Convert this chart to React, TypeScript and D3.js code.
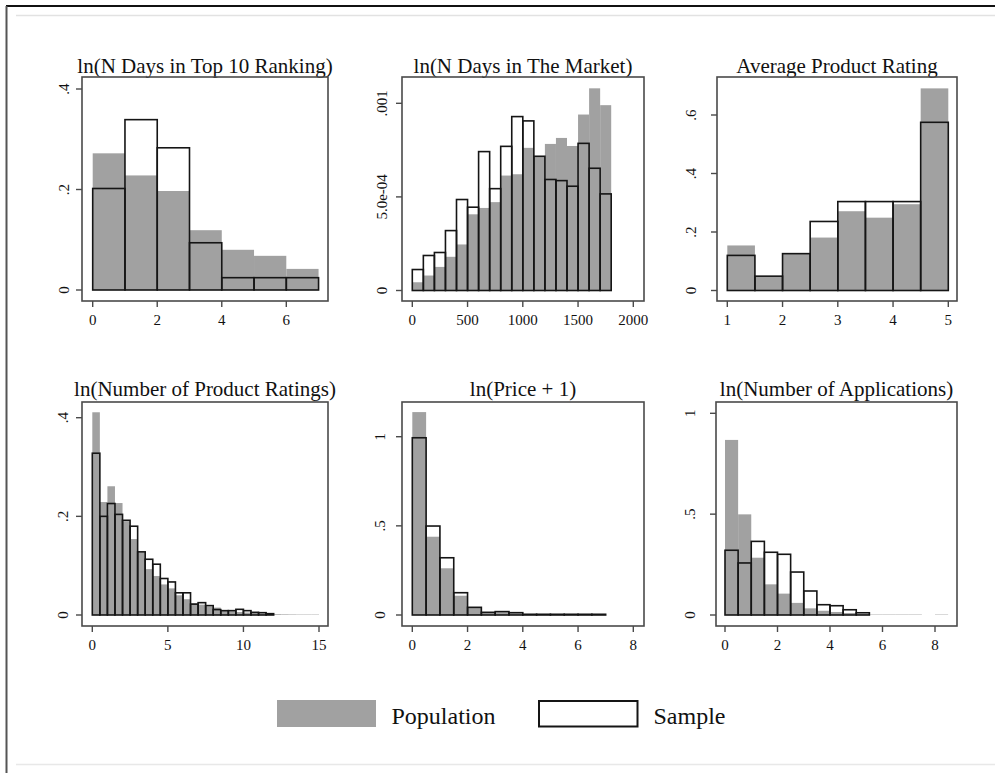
import React from 'react';
import * as d3 from 'd3';

// ---- Data: histogram densities, population (filled) vs sample (outline) ----

// ln(N Days in Top 10 Ranking)
const rankStart = 0;
const rankWidth = 1;
const rankPopulation = [0.272, 0.228, 0.197, 0.119, 0.08, 0.068, 0.042];
const rankSample = [0.202, 0.339, 0.283, 0.094, 0.0245, 0.0245, 0.0245];
const rankXTicks = [0, 2, 4, 6];
const rankYTicks = [0, 0.2, 0.4];
const rankYLabels = ['0', '.2', '.4'];

// ln(N Days in The Market)
const marketStart = 0;
const marketWidth = 100;
const marketPopulation = [
  4.4e-5, 8.0e-5, 1.26e-4, 1.8e-4, 2.46e-4, 4.07e-4, 4.41e-4, 4.72e-4, 6.14e-4,
  6.21e-4, 7.62e-4, 7.15e-4, 7.83e-4, 8.15e-4, 7.72e-4, 9.4e-4, 1.08e-3, 9.9e-4,
];
const marketSample = [
  1.12e-4, 1.87e-4, 2.03e-4, 3.2e-4, 4.86e-4, 4.45e-4, 7.42e-4, 5.44e-4, 7.7e-4,
  9.29e-4, 9.06e-4, 7.17e-4, 5.93e-4, 5.87e-4, 5.57e-4, 7.86e-4, 6.53e-4, 5.16e-4,
];
const marketXTicks = [0, 500, 1000, 1500, 2000];
const marketYTicks = [0, 0.0005, 0.001];
const marketYLabels = ['0', '5.0e-04', '.001'];

// Average Product Rating
const ratingStart = 1;
const ratingWidth = 0.5;
const ratingPopulation = [0.154, 0.048, 0.125, 0.181, 0.271, 0.249, 0.295, 0.691];
const ratingSample = [0.12, 0.049, 0.126, 0.236, 0.304, 0.304, 0.304, 0.575];
const ratingXTicks = [1, 2, 3, 4, 5];
const ratingYTicks = [0, 0.2, 0.4, 0.6];
const ratingYLabels = ['0', '.2', '.4', '.6'];

// ln(Number of Product Ratings)
const nRatingsStart = 0;
const nRatingsWidth = 0.5;
const nRatingsPopulation = [
  0.411, 0.229, 0.261, 0.227, 0.19, 0.154, 0.127, 0.093, 0.079, 0.062, 0.054, 0.04,
  0.032, 0.024, 0.021, 0.017, 0.015, 0.009, 0.0075, 0.006, 0.005, 0.004, 0.003,
  0.0025, 0.0015, 0.0012, 0.001, 0.0008, 0.0008, 0.0008,
];
const nRatingsSample = [
  0.328, 0.2, 0.226, 0.204, 0.192, 0.18, 0.128, 0.113, 0.103, 0.074, 0.067, 0.045,
  0.045, 0.022, 0.025, 0.019, 0.011, 0.0088, 0.0088, 0.0115, 0.0088, 0.0054, 0.0047,
  0.0027,
];
const nRatingsXTicks = [0, 5, 10, 15];
const nRatingsYTicks = [0, 0.2, 0.4];
const nRatingsYLabels = ['0', '.2', '.4'];

// ln(Price + 1)
const priceStart = 0;
const priceWidth = 0.5;
const pricePopulation = [
  1.138, 0.439, 0.262, 0.108, 0.04, 0.012, 0.015, 0.01, 0.003, 0.003, 0.003, 0.003,
  0.003, 0.003,
];
const priceSample = [
  0.994, 0.499, 0.321, 0.125, 0.043, 0.015, 0.019, 0.013, 0.004, 0.004, 0.004, 0.004,
  0.004, 0.004,
];
const priceXTicks = [0, 2, 4, 6, 8];
const priceYTicks = [0, 0.5, 1];
const priceYLabels = ['0', '.5', '1'];

// ln(Number of Applications)
const appsStart = 0;
const appsWidth = 0.5;
const appsPopulation = [
  0.868, 0.499, 0.284, 0.152, 0.106, 0.06, 0.033, 0.021, 0.015, 0.01, 0.006, 0.002,
  0.002, 0.002, 0.002, 0, 0.002,
];
const appsSample = [0.321, 0.258, 0.365, 0.311, 0.301, 0.213, 0.119, 0.051, 0.046, 0.026, 0.011];
const appsXTicks = [0, 2, 4, 6, 8];
const appsYTicks = [0, 0.5, 1];
const appsYLabels = ['0', '.5', '1'];

const legendLabels = ['Population', 'Sample'];

// ---- Layout ----

const W = 995;
const H = 773;
const FONT = '"Liberation Serif", "Times New Roman", serif';
const POP_FILL = '#a1a1a1';
const BAR_STROKE = '#151515';
const AXIS_STROKE = '#4a4a4a';

type PanelSpec = {
  title: string;
  start: number;
  width: number;
  population: number[];
  sample: number[];
  xTicks: number[];
  yTicks: number[];
  yLabels: string[];
  box: [number, number, number, number]; // x0, y0, x1, y1
  xDomain: [number, number];
  xRange: [number, number];
  yDomain: [number, number];
  yRange: [number, number];
  yLabelX: number;
  xLabelY: number;
  titleY: number;
};

const ROW1: [number, number] = [77, 301];
const ROW2: [number, number] = [402, 626];

const panels: PanelSpec[] = [
  {
    title: 'ln(N Days in Top 10 Ranking)',
    start: rankStart, width: rankWidth, population: rankPopulation, sample: rankSample,
    xTicks: rankXTicks, yTicks: rankYTicks, yLabels: rankYLabels,
    box: [82, ROW1[0], 328, ROW1[1]],
    xDomain: [0, 6], xRange: [92.7, 286.3],
    yDomain: [0, 0.4], yRange: [290, 89],
    yLabelX: 63.5, xLabelY: 325, titleY: 73,
  },
  {
    title: 'ln(N Days in The Market)',
    start: marketStart, width: marketWidth, population: marketPopulation, sample: marketSample,
    xTicks: marketXTicks, yTicks: marketYTicks, yLabels: marketYLabels,
    box: [402, ROW1[0], 644, ROW1[1]],
    xDomain: [0, 2000], xRange: [412.3, 633.3],
    yDomain: [0, 0.001], yRange: [290.5, 103.3],
    yLabelX: 381.5, xLabelY: 325, titleY: 73,
  },
  {
    title: 'Average Product Rating',
    start: ratingStart, width: ratingWidth, population: ratingPopulation, sample: ratingSample,
    xTicks: ratingXTicks, yTicks: ratingYTicks, yLabels: ratingYLabels,
    box: [717, ROW1[0], 957, ROW1[1]],
    xDomain: [1, 5], xRange: [727.3, 948.3],
    yDomain: [0, 0.6], yRange: [290.5, 115],
    yLabelX: 690.5, xLabelY: 325, titleY: 73,
  },
  {
    title: 'ln(Number of Product Ratings)',
    start: nRatingsStart, width: nRatingsWidth, population: nRatingsPopulation, sample: nRatingsSample,
    xTicks: nRatingsXTicks, yTicks: nRatingsYTicks, yLabels: nRatingsYLabels,
    box: [82, ROW2[0], 328, ROW2[1]],
    xDomain: [0, 15], xRange: [92.3, 319],
    yDomain: [0, 0.4], yRange: [615, 417.7],
    yLabelX: 63, xLabelY: 650, titleY: 396,
  },
  {
    title: 'ln(Price + 1)',
    start: priceStart, width: priceWidth, population: pricePopulation, sample: priceSample,
    xTicks: priceXTicks, yTicks: priceYTicks, yLabels: priceYLabels,
    box: [402, ROW2[0], 644, ROW2[1]],
    xDomain: [0, 8], xRange: [412.3, 633.3],
    yDomain: [0, 1], yRange: [615, 436.7],
    yLabelX: 379.5, xLabelY: 650, titleY: 396,
  },
  {
    title: 'ln(Number of Applications)',
    start: appsStart, width: appsWidth, population: appsPopulation, sample: appsSample,
    xTicks: appsXTicks, yTicks: appsYTicks, yLabels: appsYLabels,
    box: [716, ROW2[0], 957, ROW2[1]],
    xDomain: [0, 8], xRange: [725, 935],
    yDomain: [0, 1], yRange: [615, 413.3],
    yLabelX: 689.5, xLabelY: 650, titleY: 396,
  },
];

function Panel({ p }: { p: PanelSpec }) {
  const x = d3.scaleLinear().domain(p.xDomain).range(p.xRange);
  const y = d3.scaleLinear().domain(p.yDomain).range(p.yRange);
  const [bx0, by0, bx1, by1] = p.box;
  const base = y(0);
  const tickLen = 6;

  return (
    <g>
      <text
        x={(bx0 + bx1) / 2}
        y={p.titleY}
        textAnchor="middle"
        fontFamily={FONT}
        fontSize={21}
        fill="#111"
      >
        {p.title}
      </text>

      {/* population bars */}
      {p.population.map((v, i) => {
        const left = x(p.start + i * p.width);
        const right = x(p.start + (i + 1) * p.width);
        const top = y(v);
        if (v <= 0) return null;
        return (
          <rect
            key={`pop-${i}`}
            x={left}
            y={top}
            width={right - left}
            height={base - top}
            fill={POP_FILL}
          />
        );
      })}

      {/* sample bars, outline only */}
      {p.sample.map((v, i) => {
        const left = x(p.start + i * p.width);
        const right = x(p.start + (i + 1) * p.width);
        const top = y(v);
        return (
          <rect
            key={`smp-${i}`}
            x={left}
            y={top}
            width={right - left}
            height={base - top}
            fill="none"
            stroke={BAR_STROKE}
            strokeWidth={1.6}
          />
        );
      })}

      {/* plot region frame */}
      <rect
        x={bx0}
        y={by0}
        width={bx1 - bx0}
        height={by1 - by0}
        fill="none"
        stroke={AXIS_STROKE}
        strokeWidth={1.6}
      />

      {/* x axis */}
      {p.xTicks.map((t) => (
        <g key={`xt-${t}`}>
          <line x1={x(t)} x2={x(t)} y1={by1} y2={by1 + tickLen} stroke={AXIS_STROKE} strokeWidth={1.4} />
          <text
            x={x(t)}
            y={p.xLabelY}
            textAnchor="middle"
            fontFamily={FONT}
            fontSize={15}
            fill="#111"
          >
            {t}
          </text>
        </g>
      ))}

      {/* y axis */}
      {p.yTicks.map((t, i) => (
        <g key={`yt-${t}`}>
          <line x1={bx0 - tickLen} x2={bx0} y1={y(t)} y2={y(t)} stroke={AXIS_STROKE} strokeWidth={1.4} />
          <text
            transform={`translate(${p.yLabelX + 5},${y(t)}) rotate(-90)`}
            textAnchor="middle"
            fontFamily={FONT}
            fontSize={15}
            fill="#111"
          >
            {p.yLabels[i]}
          </text>
        </g>
      ))}
    </g>
  );
}

export default function App() {
  return (
    <svg
      width={W}
      height={H}
      viewBox={`0 0 ${W} ${H}`}
      style={{ position: 'absolute', left: 0, top: 0, background: '#fff' }}
    >
      <rect x={0} y={0} width={W} height={H} fill="#fff" />

      {/* page frame */}
      <line x1={6} x2={W} y1={6} y2={6} stroke="#111" strokeWidth={2} />
      <line x1={6.5} x2={6.5} y1={6} y2={H} stroke="#555" strokeWidth={2} />
      <line x1={16} x2={W} y1={15.5} y2={15.5} stroke="#e2e2e2" strokeWidth={1.5} />
      <line x1={16} x2={W} y1={764.5} y2={764.5} stroke="#e8e8e8" strokeWidth={1.5} />

      {panels.map((p) => (
        <Panel key={p.title} p={p} />
      ))}

      {/* legend */}
      <rect x={277} y={700} width={99} height={27} fill={POP_FILL} />
      <text x={391.5} y={723.5} fontFamily={FONT} fontSize={24} fill="#111">
        {legendLabels[0]}
      </text>
      <rect x={539} y={701} width={98.5} height={25.5} fill="none" stroke={BAR_STROKE} strokeWidth={2} />
      <text x={653.5} y={723.5} fontFamily={FONT} fontSize={24} fill="#111">
        {legendLabels[1]}
      </text>
    </svg>
  );
}
